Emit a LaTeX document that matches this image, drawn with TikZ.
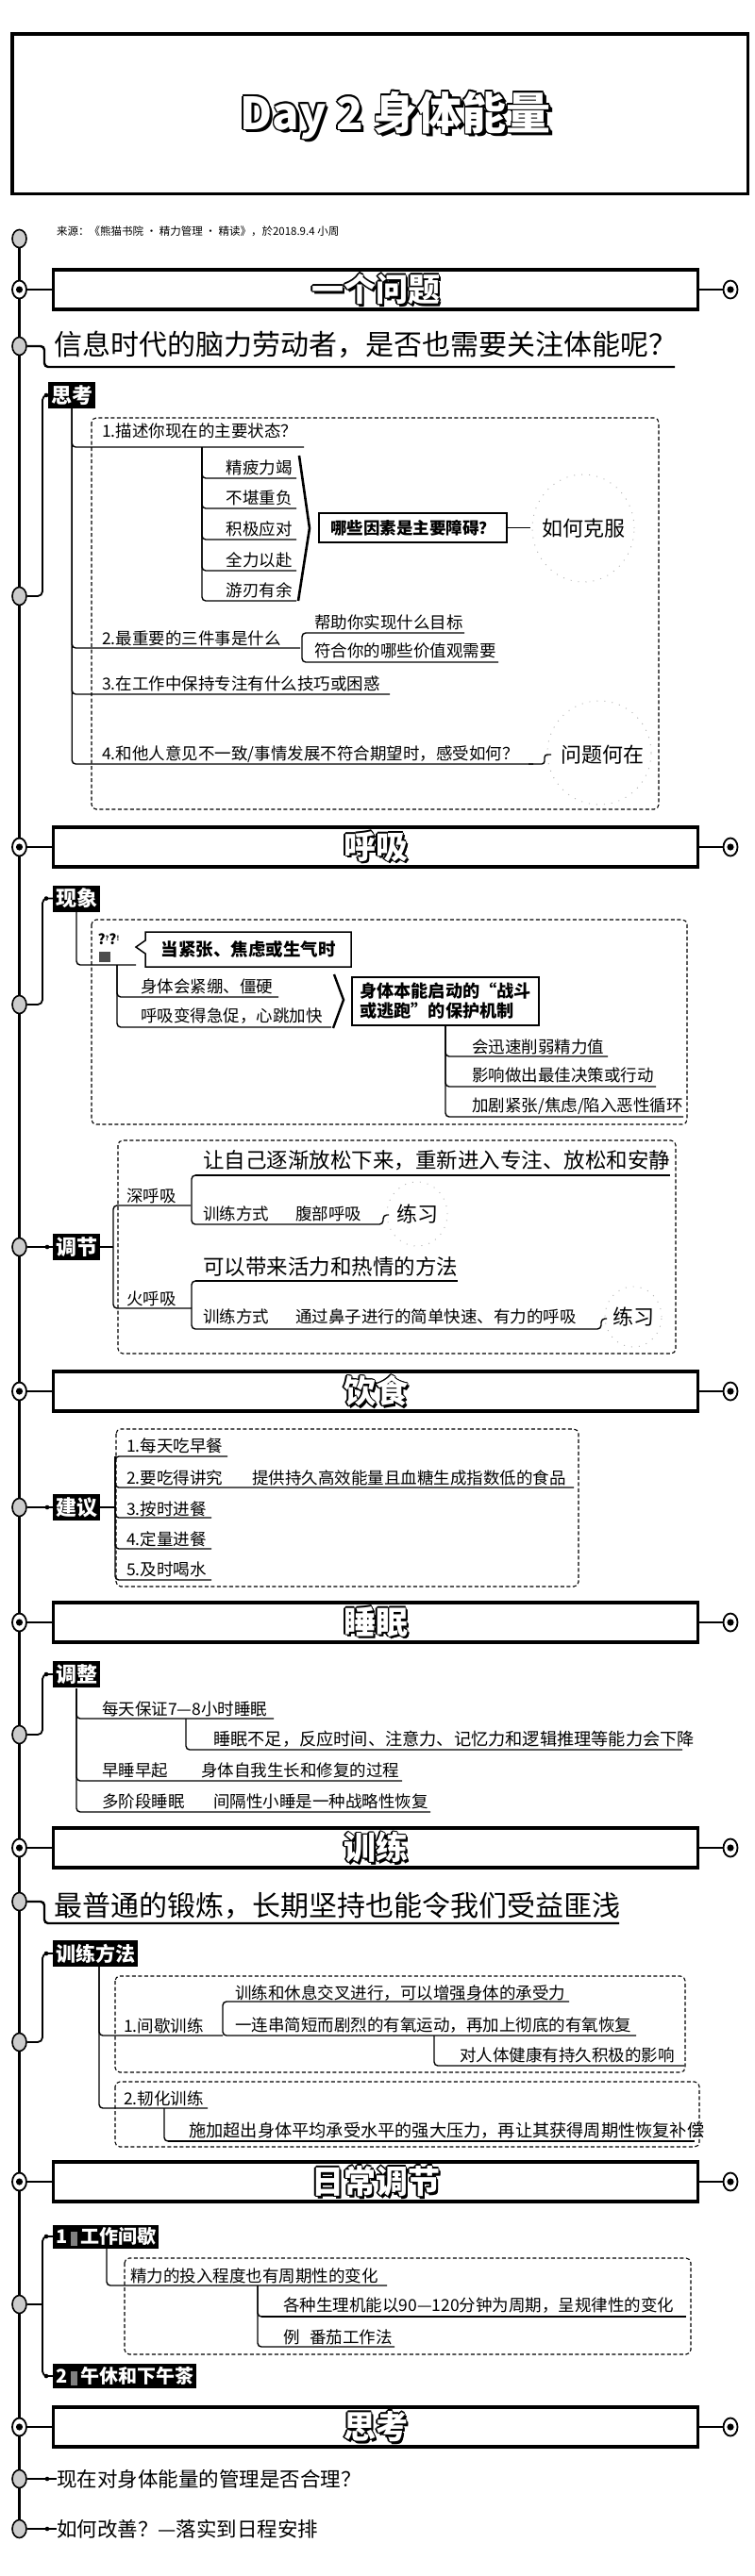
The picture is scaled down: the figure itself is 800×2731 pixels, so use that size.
\documentclass[tikz,border=0pt]{standalone}
\usepackage{fontspec}
\setmainfont{Noto Sans CJK SC}
\usetikzlibrary{shapes.geometric}
\newlength\olw
\newcommand\olshift[3]{\makebox[0pt][l]{\hspace*{#1\olw}\raisebox{#2\olw}{\color{black}#3}}}
\newcommand\outl[1]{%
\olshift{2.2}{-2.2}{#1}\olshift{1.6}{-1.6}{#1}%
\olshift{1}{0}{#1}\olshift{-1}{0}{#1}\olshift{0}{1}{#1}\olshift{0}{-1}{#1}%
\olshift{0.7}{0.7}{#1}\olshift{-0.7}{0.7}{#1}\olshift{0.7}{-0.7}{#1}\olshift{-0.7}{-0.7}{#1}%
{\color{white}#1}}
\newcommand\secbox[3]{%
  \node[sec] (#1) at (398,#2) {\setlength\olw{1.3pt}\outl{#3}};
  \node[bull] (#1l) at (20.5,#2) {};
  \node[bull] (#1r) at (774,#2) {};
  \draw[cn] (#1l) -- (#1);
  \draw[cn] (#1) -- (#1r);}
\begin{document}
\begin{tikzpicture}[x=1pt,y=-1pt,
 sec/.style={draw, line width=3.5pt, fill=white, minimum width=683pt, minimum height=42pt, inner sep=0pt, font=\fontsize{34}{34}\selectfont\bfseries},
 lab/.style={fill=black, text=white, anchor=west, inner xsep=3pt, inner ysep=1pt, minimum height=28pt, font=\fontsize{22}{22}\selectfont\bfseries},
 it/.style={anchor=west, inner sep=0pt, font=\fontsize{17.5}{18}\selectfont},
 big/.style={anchor=west, inner sep=0pt, font=\fontsize{22.5}{23}\selectfont},
 qq/.style={anchor=west, inner sep=0pt, font=\fontsize{30}{30}\selectfont},
 kw/.style={inner sep=0pt, font=\fontsize{22}{22}\selectfont},
 tr/.style={line width=1.4pt, rounded corners=4pt},
 thk/.style={line width=2.6pt},
 cn/.style={line width=1.8pt},
 dbox/.style={draw, line width=1.1pt, dash pattern=on 4pt off 2.5pt, rounded corners=5pt},
 gdot/.style={ellipse, draw, line width=1.6pt, fill=gray!40, minimum width=15pt, minimum height=19pt, inner sep=0pt},
 bull/.style={ellipse, draw, line width=1.8pt, fill=white, minimum width=15pt, minimum height=19pt, inner sep=0pt,
   path picture={\fill[black] (path picture bounding box.center) circle (3.6pt);}},
 cloud/.style={draw=gray!60, line width=0.9pt, dash pattern=on 1pt off 7pt},
 bx/.style={draw, line width=1.8pt, inner sep=0pt, font=\fontsize{17.5}{18}\selectfont\bfseries}
]
\useasboundingbox (0,0) rectangle (800,2731);
\fill[white] (0,0) rectangle (800,2731);

% title
\draw[line width=3.5pt] (12.75,35.75) rectangle (792.25,205.25);
\node (title) at (419,123) {\setlength\olw{1.6pt}\fontsize{47}{47}\selectfont\bfseries\outl{Day 2 身体能量}};

% timeline
\draw[line width=2.6pt] (20.5,253) -- (20.5,2681);
\node[gdot] (c1) at (20.5,253) {};
\node[anchor=west, inner sep=0pt, font=\fontsize{11.5}{12}\selectfont] (src) at (60,245) {来源：《熊猫书院 · 精力管理 · 精读》，於2018.9.4 小周};

% ===== 一个问题
\secbox{sA}{307}{一个问题}
\node[gdot] (cq1) at (20.5,367) {};
\node[qq] (q1) at (57,365) {信息时代的脑力劳动者，是否也需要关注体能呢？};
\draw[line width=2.4pt, rounded corners=4pt] (cq1.east) -- (47,367) -- (47,389) -- (715,389);

\draw[dbox] (97,443) rectangle (698,858);
\node[lab] (L1) at (51,419) {思考};
\node[gdot] (c3) at (20.5,632) {};
\draw[cn, rounded corners=5pt] (c3.east) -- (45,632) -- (45,419) -- (L1.west);
\fill (49,419) circle (2.3pt);
\draw[tr] (L1.south) |- (322,474);
\draw[tr] (L1.south) |- (318,687);
\draw[tr] (L1.south) |- (413,736);
\draw[tr] (L1.south) |- (565,810);
\node[it] (t1) at (108,457) {1.描述你现在的主要状态？};
\node[it] (t2) at (108,677) {2.最重要的三件事是什么};
\node[it] (t3) at (108,725) {3.在工作中保持专注有什么技巧或困惑};
\node[it] (t4) at (108,800) {4.和他人意见不一致/事情发展不符合期望时，感受如何？};
\foreach \tt/\yy in {精疲力竭/507, 不堪重负/539, 积极应对/572, 全力以赴/605, 游刃有余/637} {
  \draw[tr] (214,474) |- (314,\yy);
  \node[it, anchor=east] (a\yy) at (310,\yy-11) {\tt};
}
\draw[line width=2.6pt] (317,483) -- (328,560) -- (316,637);
\node[bx, minimum width=199pt, minimum height=31pt] (bx1) at (437.5,559.5) {哪些因素是主要障碍？};
\node[kw] (k1) at (618,560) {如何克服};
\draw[cn] (bx1.east) -- ++(24,0);
\draw[cloud] (k1.center) ellipse (54pt and 57pt);
\draw[tr] (492,671) -| (320,702) -- (528,702);
\node[it] (t21) at (333,660) {帮助你实现什么目标};
\node[it] (t22) at (333,690) {符合你的哪些价值观需要};
\node[kw] (k2) at (638,800) {问题何在};
\draw[tr, rounded corners=3pt] (560,810) -- (577,810) -- (577,800) -- (584,800);
\draw[cloud] (635,798) ellipse (55pt and 55pt);

% ===== 呼吸
\secbox{sB}{898}{呼吸}
\draw[dbox] (97,975) rectangle (728,1192);
\node[lab] (L2) at (56,952.5) {现象};
\node[gdot] (c4) at (20.5,1065) {};
\draw[cn, rounded corners=5pt] (c4.east) -- (45,1065) -- (45,952.5) -- (L2.west);
\fill (49,952.5) circle (2.3pt);
\draw[tr] (81,967) |- (144,1023);
\node[font=\fontsize{15}{15}\selectfont\bfseries, inner sep=0pt] (ic) at (115,996) {?\raisebox{4pt}{\scriptsize ?}?\raisebox{4pt}{\scriptsize !}};
\fill[gray!60!black] (105,1009) rectangle (117,1020);
\draw[line width=1.5pt] (154,988) -- (372,988) -- (372,1025) -- (154,1025) -- (154,1011) -- (144,1004) -- (154,997) -- cycle;
\node[font=\fontsize{18.5}{19}\selectfont\bfseries, inner sep=0pt] (cl) at (263,1007) {当紧张、焦虑或生气时};
\draw[tr] (124,1023) |- (295,1057);
\draw[tr] (124,1023) |- (351,1089);
\node[it] (p1) at (149,1046) {身体会紧绷、僵硬};
\node[it] (p2) at (149,1077) {呼吸变得急促，心跳加快};
\draw[line width=2.4pt] (354,1033) -- (364,1060) -- (353,1090);
\node[bx, minimum width=198pt, minimum height=51pt, align=left, font=\fontsize{18.2}{21}\selectfont\bfseries] (bx2) at (472,1061.5) {身体本能启动的“战斗\\或逃跑”的保护机制};
\draw[tr] (bx2.south) |- (644,1120);
\draw[tr] (bx2.south) |- (695,1152);
\draw[tr] (bx2.south) |- (724,1184);
\node[it] (p3) at (500,1110) {会迅速削弱精力值};
\node[it] (p4) at (500,1140) {影响做出最佳决策或行动};
\node[it] (p5) at (500,1173) {加剧紧张/焦虑/陷入恶性循环};

\draw[dbox] (125,1209) rectangle (716,1435);
\node[lab] (L3) at (56,1322) {调节};
\node[gdot] (c5) at (20.5,1322) {};
\draw[cn] (c5.east) -- (L3.west);
\fill (50,1322) circle (2.3pt);
\draw[tr] (L3.east) -- (120,1322);
\draw[tr] (202,1278) -| (120,1387) -- (203,1387);
\node[it] (d1) at (134,1268) {深呼吸};
\node[it] (d2) at (134,1377) {火呼吸};
\draw[tr] (300,1246) -| (203,1298) -- (406,1298) -- (406,1288) -- (412,1288);
\draw[thk] (207,1246) -- (710,1246);
\node[big] (d11) at (215,1230) {让自己逐渐放松下来，重新进入专注、放松和安静};
\node[it] (d12) at (215,1287) {训练方式};
\node[it] (d13) at (313,1287) {腹部呼吸};
\node[kw] (k3) at (442,1287) {练习};
\draw[cloud] (k3.center) ellipse (32pt and 34pt);
\draw[tr] (300,1358) -| (203,1409) -- (637,1409) -- (637,1398) -- (643,1398);
\draw[thk] (207,1358) -- (485,1358);
\node[big] (d21) at (215,1343) {可以带来活力和热情的方法};
\node[it] (d22) at (215,1396) {训练方式};
\node[it] (d23) at (313,1396) {通过鼻子进行的简单快速、有力的呼吸};
\node[kw] (k4) at (671,1396) {练习};
\draw[cloud] (k4.center) ellipse (30pt and 32pt);

% ===== 饮食
\secbox{sC}{1475}{饮食}
\draw[dbox] (123,1515) rectangle (613,1682);
\node[lab] (L4) at (56,1598) {建议};
\node[gdot] (c6) at (20.5,1598) {};
\draw[cn] (c6.east) -- (L4.west);
\fill (50,1598) circle (2.3pt);
\draw[tr] (L4.east) -- (122,1598);
\draw[tr] (241,1544) -| (122,1675) -- (224,1675);
\draw[tr] (122,1544) |- (608,1577);
\draw[tr] (122,1544) |- (224,1609);
\draw[tr] (122,1544) |- (224,1642);
\node[it] (f1) at (134,1533) {1.每天吃早餐};
\node[it] (f2) at (134,1567) {2.要吃得讲究};
\node[it] (f2b) at (267,1567) {提供持久高效能量且血糖生成指数低的食品};
\node[it] (f3) at (134,1600) {3.按时进餐};
\node[it] (f4) at (134,1632) {4.定量进餐};
\node[it] (f5) at (134,1664) {5.及时喝水};

% ===== 睡眠
\secbox{sD}{1720}{睡眠}
\node[lab] (L5) at (56,1775) {调整};
\node[gdot] (c7) at (20.5,1839) {};
\draw[cn, rounded corners=5pt] (c7.east) -- (45,1839) -- (45,1775) -- (L5.west);
\fill (49,1775) circle (2.3pt);
\draw[tr] (81,1790) |- (290,1822);
\draw[tr] (81,1790) |- (426,1888);
\draw[tr] (81,1790) |- (456,1921);
\draw[tr] (197,1822) |- (723,1855);
\node[it] (m1) at (108,1812) {每天保证7—8小时睡眠};
\node[it, font=\fontsize{18.2}{19}\selectfont] (m11) at (226,1844) {睡眠不足，反应时间、注意力、记忆力和逻辑推理等能力会下降};
\node[it] (m2) at (108,1877) {早睡早起};
\node[it] (m2b) at (213,1877) {身体自我生长和修复的过程};
\node[it] (m3) at (108,1910) {多阶段睡眠};
\node[it] (m3b) at (226,1910) {间隔性小睡是一种战略性恢复};

% ===== 训练
\secbox{sE}{1959}{训练}
\node[gdot] (cq2) at (20.5,2016) {};
\node[qq] (q2) at (57,2020) {最普通的锻炼，长期坚持也能令我们受益匪浅};
\draw[line width=2.4pt, rounded corners=4pt] (cq2.east) -- (47,2016) -- (47,2039) -- (656,2039);
\node[lab, font=\fontsize{21}{21}\selectfont\bfseries] (L6) at (56,2071) {训练方法};
\node[gdot] (c8) at (20.5,2165) {};
\draw[cn, rounded corners=5pt] (c8.east) -- (45,2165) -- (45,2071) -- (L6.west);
\fill (49,2071) circle (2.3pt);
\draw[dbox] (122,2095) rectangle (726,2197);
\draw[dbox] (122,2207) rectangle (741,2276);
\draw[tr] (105,2085) |- (236,2158);
\draw[tr] (105,2085) |- (220,2235);
\draw[tr] (603,2122) -| (236,2158) -- (674,2158);
\draw[tr] (460,2158) |- (725,2190);
\draw[tr] (174,2235) |- (300,2270);
\draw[thk] (178,2270) -- (736,2270);
\node[it] (r1) at (131,2148) {1.间歇训练};
\node[it] (r11) at (249,2113) {训练和休息交叉进行，可以增强身体的承受力};
\node[it] (r12) at (249,2147) {一连串简短而剧烈的有氧运动，再加上彻底的有氧恢复};
\node[it] (r13) at (487,2179) {对人体健康有持久积极的影响};
\node[it] (r2) at (131,2225) {2.韧化训练};
\node[it, font=\fontsize{18.2}{19}\selectfont] (r21) at (200,2259) {施加超出身体平均承受水平的强大压力，再让其获得周期性恢复补偿};

% ===== 日常调节
\secbox{sF}{2313}{日常调节}
\node[lab, minimum height=25pt, font=\fontsize{20}{20}\selectfont\bfseries] (L7) at (56,2371) {1\,\textcolor{gray}{\rule[-2pt]{7pt}{15pt}}\,工作间歇};
\node[lab, minimum height=26pt, font=\fontsize{20}{20}\selectfont\bfseries] (L8) at (56,2519) {2\,\textcolor{gray}{\rule[-2pt]{7pt}{15pt}}\,午休和下午茶};
\node[gdot] (c9) at (20.5,2443) {};
\draw[cn] (c9.east) -- (45,2443);
\draw[cn, rounded corners=5pt] (L7.west) -- (45,2371) -- (45,2519) -- (L8.west);
\fill (49,2371) circle (2.3pt);
\fill (49,2519) circle (2.3pt);
\draw[dbox] (132,2394) rectangle (732,2496);
\draw[tr] (113,2383) |- (410,2423);
\draw[tr] (273,2423) |- (300,2456);
\draw[thk] (277,2456) -- (727,2456);
\draw[tr] (273,2423) |- (418,2488);
\node[it] (w1) at (138,2413) {精力的投入程度也有周期性的变化};
\node[it] (w11) at (300,2444) {各种生理机能以90—120分钟为周期，呈规律性的变化};
\node[it] (w12) at (300,2478) {例};
\node[it] (w12b) at (328,2478) {番茄工作法};

% ===== 思考
\secbox{sG}{2573}{思考}
\node[gdot] (c10) at (20.5,2628) {};
\node[it, font=\fontsize{21.5}{22}\selectfont] (e1) at (60,2628) {现在对身体能量的管理是否合理？};
\draw[cn] (c10.east) -- (e1.west);
\fill (50,2628) circle (2.3pt);
\node[gdot] (c11) at (20.5,2681) {};
\node[it, font=\fontsize{21.5}{22}\selectfont] (e2) at (60,2681) {如何改善？—落实到日程安排};
\draw[cn] (c11.east) -- (e2.west);
\fill (50,2681) circle (2.3pt);
\end{tikzpicture}
\end{document}
